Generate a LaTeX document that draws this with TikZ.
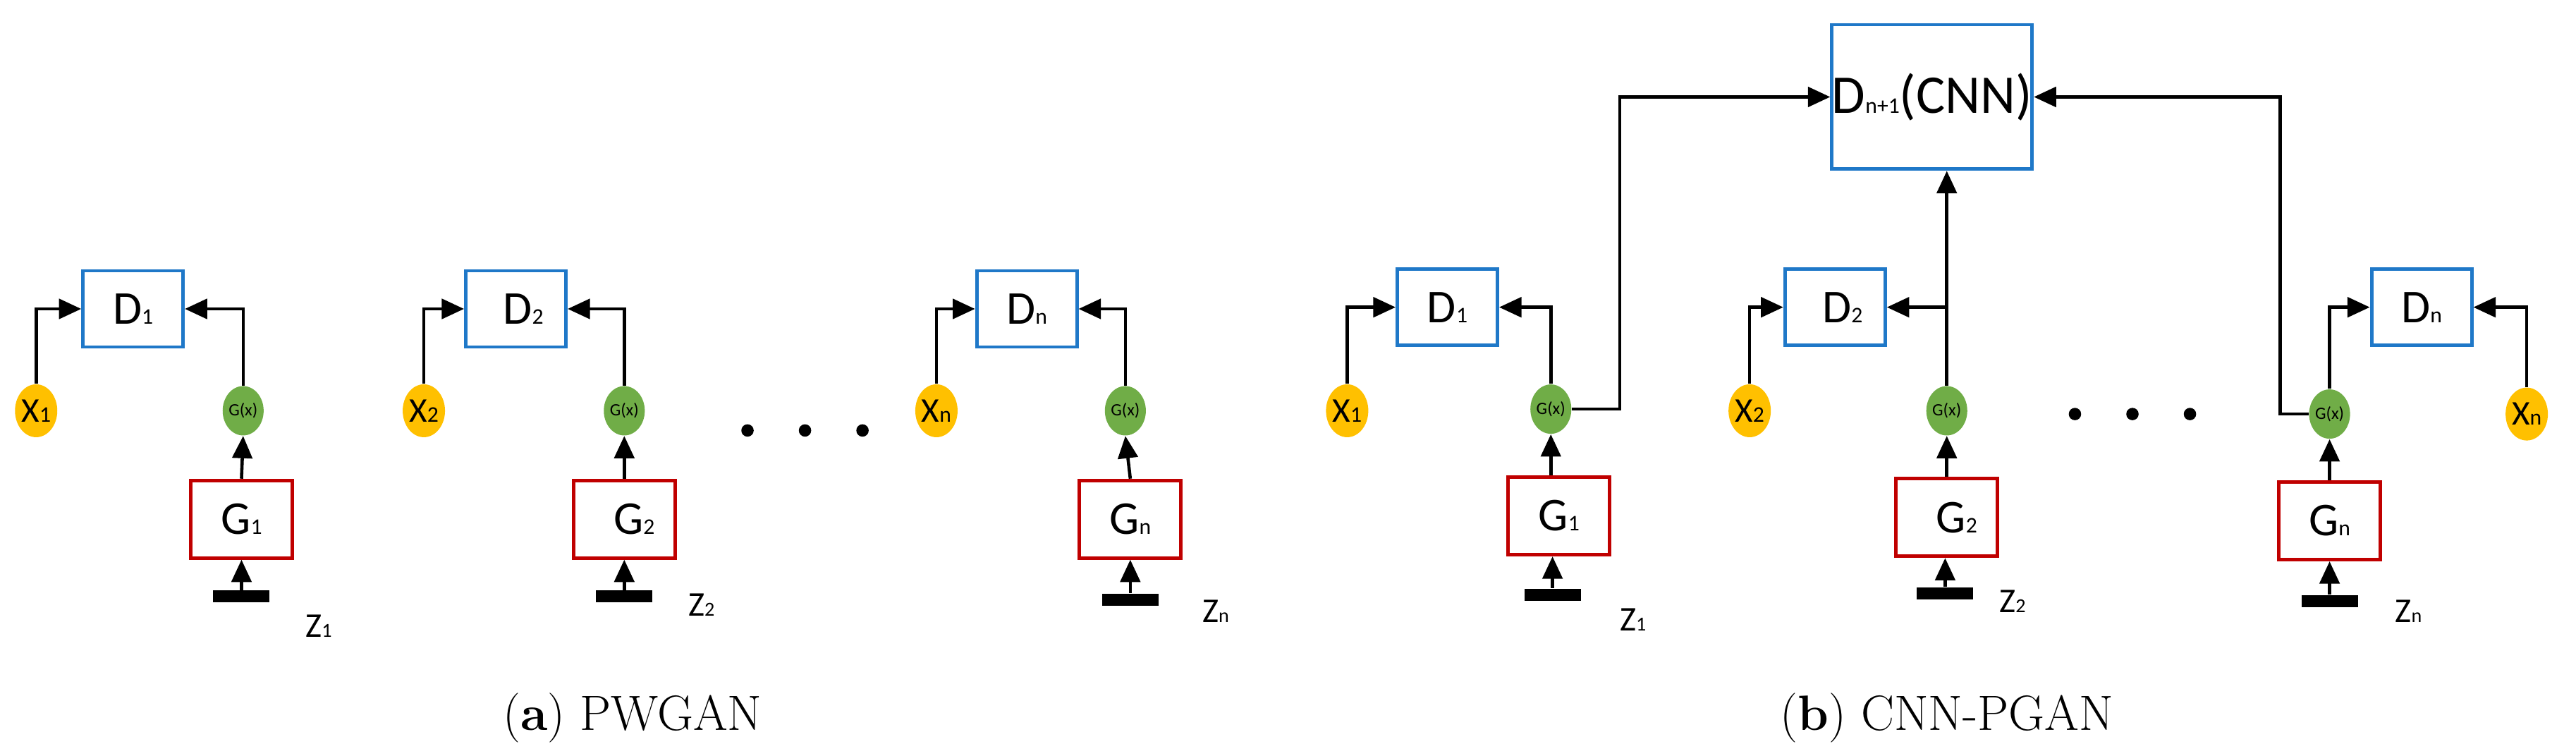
\documentclass[tikz,border=0pt]{standalone}
\usepackage{fontspec}
\newfontfamily\carl{Carlito}
\usetikzlibrary{arrows.meta,shapes.geometric}
\definecolor{dblue}{HTML}{1F78C8}
\definecolor{gred}{HTML}{C00000}
\definecolor{xorange}{HTML}{FFC000}
\definecolor{ggreen}{HTML}{70AD47}
\newcommand{\lsb}[1]{{\fontsize{9}{9}\selectfont #1}}
\newcommand{\zsb}[1]{{\fontsize{8}{8}\selectfont #1}}
\begin{document}
\begin{tikzpicture}[x=0.0233cm,y=-0.0233cm,
  every node/.style={font=\carl},
  dbox/.style={draw=dblue,line width=1.4pt,minimum width=1.42cm,minimum height=1.08cm,inner sep=0pt,font=\carl\fontsize{19}{19}\selectfont},
  gbox/.style={draw=gred,line width=1.4pt,minimum width=1.44cm,minimum height=1.1cm,inner sep=0pt,font=\carl\fontsize{19}{19}\selectfont},
  xn/.style={ellipse,fill=xorange,minimum width=0.6cm,minimum height=0.75cm,inner sep=0pt,font=\carl\fontsize{14}{14}\selectfont},
  gx/.style={ellipse,fill=ggreen,minimum width=0.56cm,minimum height=0.7cm,inner sep=0pt,font=\carl\fontsize{7}{7}\selectfont},
  bar/.style={fill=black,minimum width=0.8cm,minimum height=0.17cm,inner sep=0pt},
  zl/.style={font=\carl\fontsize{14}{14}\selectfont},
  arr/.style={line width=1.3pt,-{Triangle[length=9pt,width=8pt]}},
  dot/.style={circle,fill=black,minimum size=5pt,inner sep=0pt},
  captxt/.style={font=\fontsize{20}{22}\selectfont}]
\useasboundingbox (0,0) rectangle (1568,460);
% ---------- panel a
\node[dbox] (aD1) at (81,188) {D\lsb{1}};
\node[xn] (ax1) at (22,250) {X\lsb{1}};
\node[gx] (ag1) at (148,250) {G(x)};
\node[gbox] (aG1) at (147,316) {G\lsb{1}};
\node[bar] (ab1) at (147,363) {};
\node[zl] (az1) at (194,381) {Z\zsb{1}};
\draw[arr] (ax1.north) |- (aD1.west);
\draw[arr] (ag1.north) |- (aD1.east);
\draw[arr] (aG1.north) -- (ag1.south);
\draw[arr] (ab1.north) -- (aG1.south);
\node[dbox] (aD2) at (314,188) {\hspace{6pt}D\lsb{2}};
\node[xn] (ax2) at (258,250) {X\lsb{2}};
\node[gx] (ag2) at (380,250) {G(x)};
\node[gbox] (aG2) at (380,316) {\hspace{8pt}G\lsb{2}};
\node[bar] (ab2) at (380,363) {};
\node[zl] (az2) at (427,368) {Z\zsb{2}};
\draw[arr] (ax2.north) |- (aD2.west);
\draw[arr] (ag2.north) |- (aD2.east);
\draw[arr] (aG2.north) -- (ag2.south);
\draw[arr] (ab2.north) -- (aG2.south);
\node[dbox] (aDn) at (625,188) {D\lsb{n}};
\node[xn] (axn) at (570,250) {X\lsb{n}};
\node[gx] (agn) at (685,250) {G(x)};
\node[gbox] (aGn) at (688,316) {G\lsb{n}};
\node[bar] (abn) at (688,365) {};
\node[zl] (azn) at (740,372) {Z\zsb{n}};
\draw[arr] (axn.north) |- (aDn.west);
\draw[arr] (agn.north) |- (aDn.east);
\draw[arr] (aGn.north) -- (agn.south);
\draw[arr] (abn.north) -- (aGn.south);
\node[dot] (ad1) at (455,262) {};
\node[dot] (ad2) at (490,262) {};
\node[dot] (ad3) at (525,262) {};
\node[captxt] (capa) at (385,437) {(\textbf{a}) PWGAN};
% ---------- panel b
\node[dbox,minimum width=2.6cm,minimum height=2.05cm,font=\carl\fontsize{22}{22}\selectfont] (bDp) at (1176,59) {D\lsb{n+1}(CNN)};
\node[dbox] (bD1) at (881,187) {D\lsb{1}};
\node[xn] (bx1) at (820,250) {X\lsb{1}};
\node[gx] (bg1) at (944,249) {G(x)};
\node[gbox] (bG1) at (949,314) {G\lsb{1}};
\node[bar] (bb1) at (945,362) {};
\node[zl] (bz1) at (994,377) {Z\zsb{1}};
\draw[arr] (bx1.north) |- (bD1.west);
\draw[arr] (bg1.north) |- (bD1.east);
\draw[arr] (bG1.north -| bg1) -- (bg1.south);
\draw[arr] (bb1.north) -- (bG1.south -| bb1);
\coordinate (bc1) at (986,249);
\draw[arr] (bg1.east) -- (bc1) |- (bDp.west);
\node[dbox] (bD2) at (1117,187) {\hspace{6pt}D\lsb{2}};
\node[xn] (bx2) at (1065,250) {X\lsb{2}};
\node[gx] (bg2) at (1185,250) {G(x)};
\node[gbox] (bG2) at (1185,315) {\hspace{8pt}G\lsb{2}};
\node[bar] (bb2) at (1184,361) {};
\node[zl] (bz2) at (1225,366) {Z\zsb{2}};
\draw[arr] (bx2.north) |- (bD2.west);
\draw[arr] (bg2.north) -- (bDp.south -| bg2);
\coordinate (bj2) at (1185,187);
\draw[arr] (bj2) -- (bD2.east);
\draw[arr] (bG2.north) -- (bg2.south);
\draw[arr] (bb2.north) -- (bG2.south -| bb2);
\node[dbox] (bDn) at (1474,187) {D\lsb{n}};
\node[xn] (bxn) at (1538,252) {X\lsb{n}};
\node[gx] (bgn) at (1418,252) {G(x)};
\node[gbox] (bGn) at (1418,317) {G\lsb{n}};
\node[bar] (bbn) at (1418,366) {};
\node[zl] (bzn) at (1466,372) {Z\zsb{n}};
\draw[arr] (bgn.north) |- (bDn.west);
\draw[arr] (bxn.north) |- (bDn.east);
\draw[arr] (bGn.north) -- (bgn.south);
\draw[arr] (bbn.north) -- (bGn.south);
\coordinate (bcn) at (1388,252);
\draw[arr] (bgn.west) -- (bcn) |- (bDp.east);
\node[dot] (bd1) at (1263,252) {};
\node[dot] (bd2) at (1298,252) {};
\node[dot] (bd3) at (1333,252) {};
\node[captxt] (capb) at (1185,437) {(\textbf{b}) CNN-PGAN};
\end{tikzpicture}
\end{document}
